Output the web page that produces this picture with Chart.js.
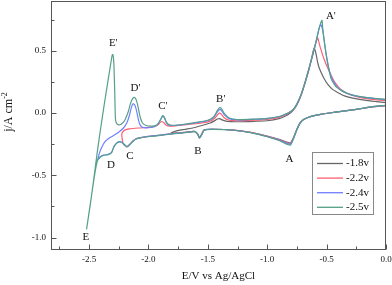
<!DOCTYPE html>
<html><head><meta charset="utf-8">
<script src="https://cdn.jsdelivr.net/npm/chart.js@4/dist/chart.umd.min.js"></script>
<style>html,body{margin:0;padding:0;background:#fff;}</style>
</head><body>
<canvas id="c" width="392" height="285"></canvas>
<script>
// ---- data (E in V vs Ag/AgCl, j in A cm^-2) ----
const SERIES_NAMES = ['-1.8v', '-2.2v', '-2.4v', '-2.5v'];

const E_18 = [0.00,-0.10,-0.25,-0.44,-0.55,-0.63,-0.69,-0.72,-0.75,-0.78,-0.805,-0.83,-0.90,-1.00,-1.14,-1.28,-1.45,-1.53,-1.555,-1.57,-1.585,-1.61,-1.70,-1.81,
  -1.78,-1.70,-1.62,-1.55,-1.48,-1.44,-1.42,-1.40,-1.38,-1.34,-1.25,-1.10,-1.00,-0.90,-0.85,-0.80,-0.77,-0.74,-0.71,-0.68,-0.65,-0.625,-0.605,-0.59,-0.578,-0.565,-0.548,-0.52,-0.49,-0.45,-0.407,-0.35,-0.27,-0.18,-0.08,0.00];
const J_18 = [0.060,0.052,0.030,0.005,-0.010,-0.027,-0.050,-0.075,-0.130,-0.200,-0.240,-0.235,-0.212,-0.185,-0.155,-0.137,-0.130,-0.135,-0.175,-0.195,-0.170,-0.148,-0.156,-0.162,
  -0.148,-0.132,-0.118,-0.100,-0.080,-0.060,-0.048,-0.045,-0.055,-0.067,-0.070,-0.066,-0.062,-0.045,-0.025,0.005,0.035,0.085,0.155,0.245,0.345,0.445,0.523,0.480,0.420,0.370,0.330,0.275,0.230,0.190,0.165,0.138,0.118,0.104,0.092,0.083];

const E_22 = [0.00,-0.10,-0.25,-0.44,-0.55,-0.63,-0.69,-0.72,-0.75,-0.78,-0.805,-0.83,-0.90,-1.00,-1.14,-1.28,-1.45,-1.53,-1.555,-1.57,-1.585,-1.61,-1.70,-1.80,-1.90,-1.98,-2.05,-2.10,-2.13,-2.16,-2.18,-2.21,-2.222,
  -2.222,-2.20,-2.16,-2.08,-2.00,-1.95,-1.92,-1.90,-1.885,-1.87,-1.85,-1.82,-1.75,-1.65,-1.55,-1.48,-1.44,-1.415,-1.40,-1.385,-1.36,-1.32,-1.25,-1.10,-1.00,-0.90,-0.85,-0.80,-0.77,-0.74,-0.71,-0.68,-0.65,-0.62,-0.60,-0.576,-0.565,-0.554,-0.52,-0.478,-0.436,-0.38,-0.30,-0.20,-0.10,0.00];
const J_22 = [0.060,0.052,0.030,0.005,-0.010,-0.027,-0.050,-0.075,-0.130,-0.200,-0.245,-0.240,-0.215,-0.187,-0.155,-0.137,-0.130,-0.135,-0.178,-0.198,-0.170,-0.148,-0.156,-0.165,-0.178,-0.185,-0.195,-0.205,-0.225,-0.255,-0.270,-0.250,-0.200,
  -0.160,-0.137,-0.127,-0.120,-0.115,-0.108,-0.095,-0.075,-0.068,-0.078,-0.098,-0.105,-0.100,-0.090,-0.080,-0.065,-0.040,-0.010,0.000,-0.010,-0.040,-0.058,-0.062,-0.057,-0.052,-0.035,-0.015,0.012,0.040,0.090,0.160,0.250,0.350,0.455,0.530,0.604,0.570,0.530,0.430,0.335,0.254,0.190,0.148,0.122,0.108,0.100];

const E_24 = [0.00,-0.10,-0.25,-0.44,-0.55,-0.63,-0.69,-0.72,-0.75,-0.78,-0.805,-0.83,-0.90,-1.00,-1.14,-1.28,-1.45,-1.53,-1.555,-1.57,-1.585,-1.61,-1.70,-1.80,-1.90,-1.98,-2.05,-2.10,-2.13,-2.16,-2.18,-2.20,-2.23,-2.26,-2.29,-2.31,-2.34,-2.38,-2.41,-2.425,
  -2.415,-2.40,-2.37,-2.32,-2.26,-2.21,-2.18,-2.16,-2.145,-2.13,-2.115,-2.10,-2.085,-2.07,-2.05,-2.00,-1.95,-1.92,-1.90,-1.88,-1.865,-1.85,-1.83,-1.80,-1.70,-1.60,-1.50,-1.45,-1.42,-1.40,-1.385,-1.36,-1.32,-1.25,-1.10,-1.00,-0.90,-0.85,-0.80,-0.77,-0.74,-0.71,-0.68,-0.65,-0.62,-0.60,-0.58,-0.56,-0.548,-0.537,-0.525,-0.506,-0.483,-0.45,-0.394,-0.30,-0.20,-0.10,0.00];
const J_24 = [0.062,0.053,0.030,0.005,-0.010,-0.027,-0.050,-0.075,-0.132,-0.205,-0.250,-0.245,-0.218,-0.188,-0.156,-0.138,-0.130,-0.135,-0.180,-0.200,-0.170,-0.148,-0.157,-0.166,-0.178,-0.186,-0.195,-0.205,-0.225,-0.255,-0.270,-0.255,-0.232,-0.235,-0.270,-0.315,-0.332,-0.338,-0.355,-0.375,
  -0.330,-0.290,-0.235,-0.195,-0.160,-0.120,-0.075,-0.020,0.040,0.075,0.065,0.020,-0.050,-0.095,-0.115,-0.118,-0.110,-0.090,-0.055,-0.025,-0.040,-0.075,-0.095,-0.100,-0.092,-0.078,-0.062,-0.035,0.010,0.030,0.020,-0.015,-0.045,-0.055,-0.050,-0.045,-0.030,-0.012,0.013,0.040,0.090,0.160,0.250,0.350,0.455,0.530,0.610,0.690,0.710,0.680,0.617,0.483,0.362,0.268,0.193,0.148,0.128,0.117,0.108];

const E_25 = [0.00,-0.10,-0.25,-0.44,-0.55,-0.63,-0.69,-0.72,-0.75,-0.78,-0.805,-0.83,-0.90,-1.00,-1.14,-1.28,-1.45,-1.53,-1.555,-1.57,-1.585,-1.61,-1.70,-1.80,-1.90,-1.98,-2.05,-2.10,-2.13,-2.16,-2.18,-2.20,-2.23,-2.26,-2.29,-2.31,-2.34,-2.38,-2.41,-2.43,-2.45,-2.48,-2.50,-2.52,
  -2.49,-2.46,-2.43,-2.40,-2.37,-2.34,-2.32,-2.31,-2.303,-2.297,-2.29,-2.283,-2.278,-2.27,-2.25,-2.23,-2.20,-2.17,-2.15,-2.13,-2.115,-2.10,-2.085,-2.07,-2.05,-2.02,-1.97,-1.93,-1.90,-1.88,-1.865,-1.85,-1.83,-1.80,-1.70,-1.60,-1.50,-1.45,-1.42,-1.40,-1.385,-1.36,-1.32,-1.25,-1.10,-1.00,-0.90,-0.85,-0.80,-0.77,-0.74,-0.71,-0.68,-0.65,-0.62,-0.60,-0.58,-0.56,-0.545,-0.538,-0.533,-0.514,-0.49,-0.463,-0.42,-0.32,-0.20,-0.10,0.00];
const J_25 = [0.062,0.053,0.030,0.005,-0.010,-0.027,-0.050,-0.077,-0.135,-0.210,-0.258,-0.252,-0.220,-0.190,-0.157,-0.138,-0.131,-0.136,-0.182,-0.202,-0.172,-0.149,-0.158,-0.167,-0.180,-0.188,-0.196,-0.206,-0.226,-0.257,-0.272,-0.256,-0.233,-0.236,-0.270,-0.318,-0.334,-0.340,-0.357,-0.385,-0.480,-0.670,-0.800,-0.930,
  -0.740,-0.530,-0.310,-0.110,0.080,0.260,0.380,0.440,0.470,0.465,0.380,0.150,-0.040,-0.080,-0.095,-0.090,-0.060,0.010,0.080,0.120,0.125,0.100,0.040,-0.030,-0.080,-0.100,-0.105,-0.095,-0.060,-0.020,-0.035,-0.070,-0.092,-0.098,-0.090,-0.075,-0.058,-0.030,0.020,0.045,0.035,-0.005,-0.040,-0.052,-0.048,-0.043,-0.028,-0.010,0.015,0.042,0.092,0.162,0.252,0.352,0.457,0.532,0.612,0.692,0.735,0.745,0.684,0.536,0.400,0.280,0.210,0.155,0.130,0.118,0.110];

const X_MAJOR = [-2.5,-2.0,-1.5,-1.0,-0.5,0.0];
const X_MINOR = [-2.75,-2.25,-1.75,-1.25,-0.75,-0.25];
const Y_MAJOR = [-1.0,-0.5,0.0,0.5];
const Y_MINOR = [-0.75,-0.25,0.25,0.75];

const PEAK_LABELS = ["E'", "D'", "C'", "B'", "A'", 'A', 'B', 'C', 'D', 'E'];
const PEAK_LABEL_E = [-2.296,-2.108,-1.878,-1.391,-0.464,-0.812,-1.583,-2.156,-2.315,-2.527];
const PEAK_LABEL_J = [0.564,0.200,0.059,0.115,0.778,-0.370,-0.309,-0.349,-0.416,-0.998];

// ---- styles ----
const COLORS = ['#666666', '#ff6070', '#7080ff', '#55a08a'];
const SERIF = 'Liberation Serif, Times New Roman, serif';

function pts(E, J) { return E.map((e, i) => ({x: e, y: J[i]})); }
const SERIES = [[E_18, J_18], [E_22, J_22], [E_24, J_24], [E_25, J_25]];

const datasets = SERIES.map((s, i) => ({
  label: SERIES_NAMES[i],
  data: pts(s[0], s[1]),
  borderColor: COLORS[i],
  backgroundColor: COLORS[i],
  borderWidth: 1.2,
  showLine: true,
  pointRadius: 0,
  tension: 0.2,
  order: 3 - i
}));

const decor = {
  id: 'decor',
  afterDraw(chart) {
    const {ctx, chartArea: a, scales: {x, y}} = chart;
    ctx.save();
    // frame
    ctx.strokeStyle = '#555';
    ctx.lineWidth = 1;
    ctx.strokeRect(Math.round(a.left) + 0.5, Math.round(a.top) + 0.5, Math.round(a.right - a.left) - 1, Math.round(a.bottom - a.top) - 1);
    // inward tick marks
    ctx.beginPath();
    const b = Math.round(a.bottom) - 0.5, l = Math.round(a.left) + 0.5;
    X_MAJOR.forEach(v => { const px = Math.round(x.getPixelForValue(v)) + 0.5; ctx.moveTo(px, b); ctx.lineTo(px, b - 5); });
    X_MINOR.forEach(v => { const px = Math.round(x.getPixelForValue(v)) + 0.5; ctx.moveTo(px, b); ctx.lineTo(px, b - 3); });
    Y_MAJOR.forEach(v => { const py = Math.round(y.getPixelForValue(v)) + 0.5; ctx.moveTo(l, py); ctx.lineTo(l + 5, py); });
    Y_MINOR.forEach(v => { const py = Math.round(y.getPixelForValue(v)) + 0.5; ctx.moveTo(l, py); ctx.lineTo(l + 3, py); });
    ctx.stroke();

    // peak labels
    ctx.fillStyle = '#111';
    ctx.font = '11px ' + SERIF;
    ctx.textAlign = 'center';
    ctx.textBaseline = 'middle';
    PEAK_LABELS.forEach((t, i) => ctx.fillText(t, x.getPixelForValue(PEAK_LABEL_E[i]), y.getPixelForValue(PEAK_LABEL_J[i])));

    // legend
    ctx.fillStyle = '#fff';
    ctx.fillRect(312, 152, 61, 62);
    ctx.strokeStyle = '#888';
    ctx.strokeRect(312.5, 152.5, 61, 62);
    ctx.textAlign = 'left';
    SERIES_NAMES.forEach((n, i) => {
      const yy = 163.5 + i * 14.6;
      ctx.strokeStyle = COLORS[i];
      ctx.lineWidth = 1.3;
      ctx.beginPath(); ctx.moveTo(317, yy); ctx.lineTo(343, yy); ctx.stroke();
      ctx.fillStyle = '#111';
      ctx.fillText(n, 346, yy);
    });

    // axis titles
    ctx.font = '11px ' + SERIF;
    ctx.textAlign = 'center';
    ctx.textBaseline = 'middle';
    ctx.fillText('E/V vs Ag/AgCl', (a.left + a.right) / 2, 276);
    ctx.translate(9, 112);
    ctx.rotate(-Math.PI / 2);
    ctx.textAlign = 'left';
    const main = 'j/A cm', sup = '-2';
    ctx.font = '12px ' + SERIF;
    const w1 = ctx.measureText(main).width;
    ctx.font = '8px ' + SERIF;
    const w2 = ctx.measureText(sup).width;
    const x0 = -(w1 + w2) / 2;
    ctx.font = '12px ' + SERIF;
    ctx.fillText(main, x0, 0);
    ctx.font = '8px ' + SERIF;
    ctx.fillText(sup, x0 + w1, -4);
    ctx.restore();
  }
};

new Chart(document.getElementById('c'), {
  type: 'scatter',
  data: {datasets},
  options: {
    responsive: false,
    animation: false,
    layout: {padding: {left: 0, right: 6, top: 1, bottom: 0}},
    plugins: {legend: {display: false}, tooltip: {enabled: false}},
    scales: {
      x: {
        type: 'linear', min: -2.82, max: 0,
        grid: {display: false, drawTicks: false},
        border: {display: false},
        afterBuildTicks: s => { s.ticks = X_MAJOR.map(v => ({value: v})); },
        afterFit: s => { s.height = 35; s.paddingLeft = 0; s.paddingRight = 0; },
        ticks: {padding: 4, maxRotation: 0, autoSkip: false, color: '#111',
          font: {family: SERIF, size: 9}, callback: v => Number(v).toFixed(1)}
      },
      y: {
        type: 'linear', min: -1.1, max: 0.9,
        grid: {display: false, drawTicks: false},
        border: {display: false},
        afterBuildTicks: s => { s.ticks = Y_MAJOR.map(v => ({value: v})); },
        afterFit: s => { s.width = 51; s.paddingTop = 0; s.paddingBottom = 0; },
        ticks: {padding: 5, autoSkip: false, color: '#111',
          font: {family: SERIF, size: 9}, callback: v => Number(v).toFixed(1)}
      }
    }
  },
  plugins: [decor]
});
</script>
</body></html>
